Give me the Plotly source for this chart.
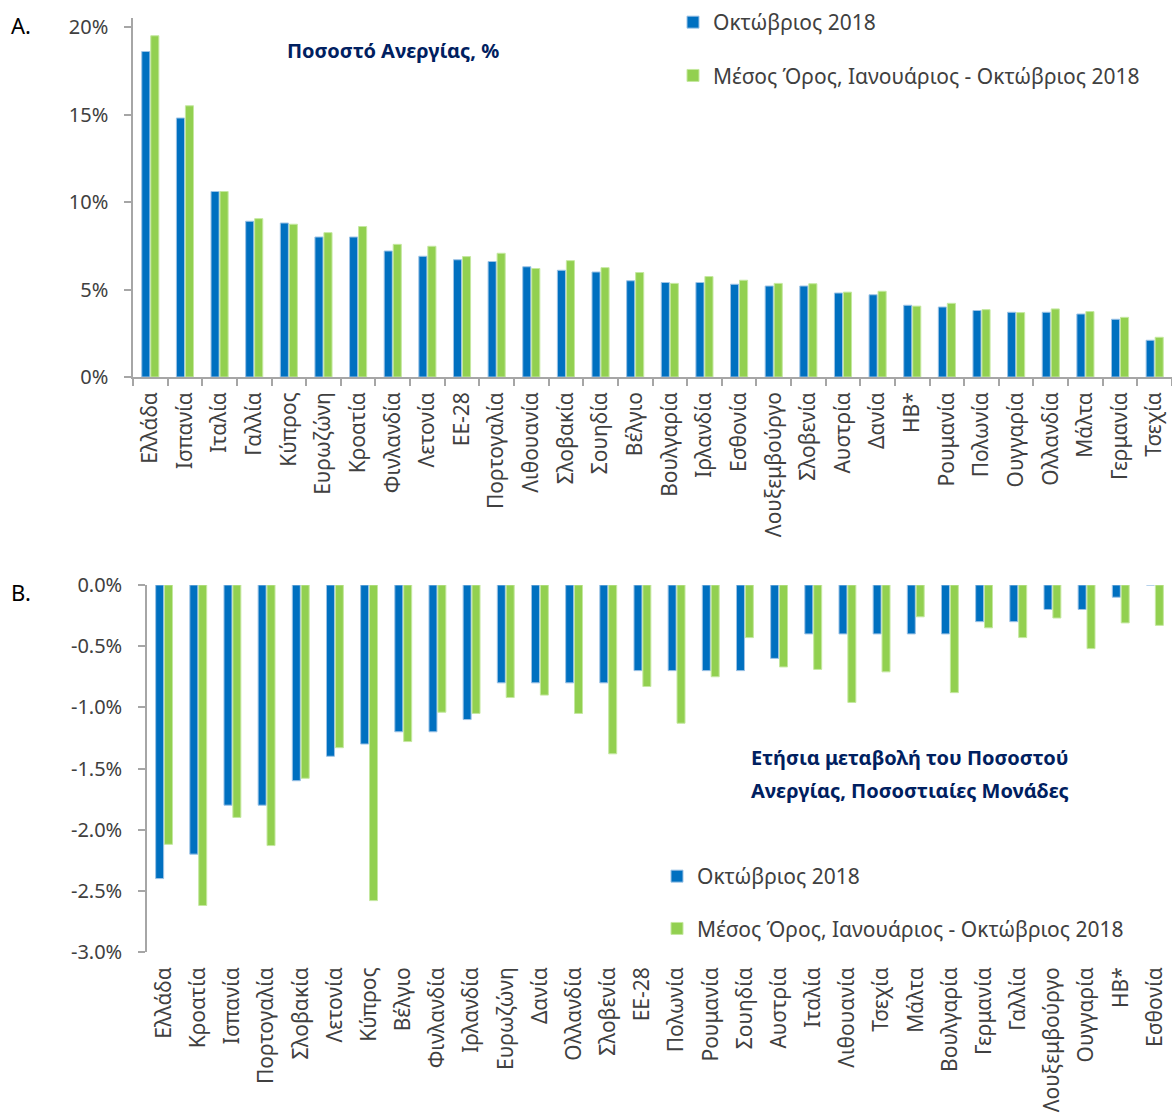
import plotly.graph_objects as go

# ---------------- data ----------------
cats_a = ["Ελλάδα", "Ισπανία", "Ιταλία", "Γαλλία", "Κύπρος", "Ευρωζώνη", "Κροατία",
          "Φινλανδία", "Λετονία", "ΕΕ-28", "Πορτογαλία", "Λιθουανία", "Σλοβακία",
          "Σουηδία", "Βέλγιο", "Βουλγαρία", "Ιρλανδία", "Εσθονία", "Λουξεμβούργο",
          "Σλοβενία", "Αυστρία", "Δανία", "ΗΒ*", "Ρουμανία", "Πολωνία", "Ουγγαρία",
          "Ολλανδία", "Μάλτα", "Γερμανία", "Τσεχία"]
oct_a = [18.6, 14.8, 10.6, 8.9, 8.8, 8.0, 8.0, 7.2, 6.9, 6.7, 6.6, 6.3, 6.1, 6.0, 5.5,
         5.4, 5.4, 5.3, 5.2, 5.2, 4.8, 4.7, 4.1, 4.0, 3.8, 3.7, 3.7, 3.6, 3.3, 2.1]
avg_a = [19.5, 15.5, 10.6, 9.05, 8.73, 8.25, 8.6, 7.58, 7.47, 6.88, 7.07, 6.2, 6.65,
         6.25, 5.97, 5.35, 5.74, 5.53, 5.35, 5.33, 4.85, 4.9, 4.05, 4.21, 3.85, 3.68,
         3.89, 3.74, 3.41, 2.27]
yticks_a = [0, 5, 10, 15, 20]
yticklabels_a = ["0%", "5%", "10%", "15%", "20%"]

cats_b = ["Ελλάδα", "Κροατία", "Ισπανία", "Πορτογαλία", "Σλοβακία", "Λετονία", "Κύπρος",
          "Βέλγιο", "Φινλανδία", "Ιρλανδία", "Ευρωζώνη", "Δανία", "Ολλανδία", "Σλοβενία",
          "ΕΕ-28", "Πολωνία", "Ρουμανία", "Σουηδία", "Αυστρία", "Ιταλία", "Λιθουανία",
          "Τσεχία", "Μάλτα", "Βουλγαρία", "Γερμανία", "Γαλλία", "Λουξεμβούργο",
          "Ουγγαρία", "ΗΒ*", "Εσθονία"]
oct_b = [-2.4, -2.2, -1.8, -1.8, -1.6, -1.4, -1.3, -1.2, -1.2, -1.1, -0.8, -0.8, -0.8,
         -0.8, -0.7, -0.7, -0.7, -0.7, -0.6, -0.4, -0.4, -0.4, -0.4, -0.4, -0.3, -0.3,
         -0.2, -0.2, -0.1, 0.0]
avg_b = [-2.12, -2.62, -1.9, -2.13, -1.58, -1.33, -2.58, -1.28, -1.04, -1.05, -0.92,
         -0.9, -1.05, -1.38, -0.83, -1.13, -0.75, -0.43, -0.67, -0.69, -0.96, -0.71,
         -0.26, -0.88, -0.35, -0.43, -0.27, -0.52, -0.31, -0.33]
yticks_b = [0, -0.5, -1.0, -1.5, -2.0, -2.5, -3.0]
yticklabels_b = ["0.0%", "-0.5%", "-1.0%", "-1.5%", "-2.0%", "-2.5%", "-3.0%"]

name_oct = "Οκτώβριος 2018"
name_avg = "Μέσος Όρος, Ιανουάριος - Οκτώβριος 2018"
title_a = "Ποσοστό Ανεργίας, %"
title_b_line1 = "Ετήσια μεταβολή του Ποσοστού"
title_b_line2 = "Ανεργίας, Ποσοστιαίες Μονάδες"

# ---------------- style ----------------
W, H = 1172, 1113
BLUE, GREEN = "#0070C0", "#92D050"
BLUE_EDGE, GREEN_EDGE = "#9DC3E6", "#C5E8A0"
AXIS = "#A6A6A6"
TXT = "#404040"
NAVY = "#002060"
FONT = "Noto Sans"


def px(x):
    return x / W


def py(y):
    return 1 - y / H


fig = go.Figure()

fig.add_trace(go.Bar(x=cats_a, y=oct_a, name=name_oct, marker_color=BLUE,
                     marker_line=dict(color=BLUE_EDGE, width=1),
                     xaxis="x", yaxis="y", legend="legend", legendgroup="a1"))
fig.add_trace(go.Bar(x=cats_a, y=avg_a, name=name_avg, marker_color=GREEN,
                     marker_line=dict(color=GREEN_EDGE, width=1),
                     xaxis="x", yaxis="y", legend="legend", legendgroup="a2"))
fig.add_trace(go.Bar(x=cats_b, y=oct_b, name=name_oct, marker_color=BLUE,
                     marker_line=dict(color=BLUE_EDGE, width=1),
                     xaxis="x2", yaxis="y2", legend="legend2", legendgroup="b1"))
fig.add_trace(go.Bar(x=cats_b, y=avg_b, name=name_avg, marker_color=GREEN,
                     marker_line=dict(color=GREEN_EDGE, width=1),
                     xaxis="x2", yaxis="y2", legend="legend2", legendgroup="b2"))

tickfont = dict(family=FONT, size=20, color=TXT)
cattickfont = dict(family=FONT, size=21, color=TXT)
axline = dict(showline=True, linecolor=AXIS, linewidth=1.5,
              ticklen=7, tickcolor=AXIS, tickwidth=1.5,
              showgrid=False, zeroline=False, automargin=False)

fig.update_layout(
    width=W, height=H,
    margin=dict(l=0, r=0, t=0, b=0, autoexpand=False),
    paper_bgcolor="white", plot_bgcolor="white",
    barmode="group", bargap=0.48, bargroupgap=0.1,
    font=dict(family=FONT, color=TXT),
    # top chart
    xaxis=dict(domain=[px(133), 1.0], anchor="y", type="category",
               categoryorder="array", categoryarray=cats_a,
               ticks="outside", tickson="boundaries", tickangle=-90,
               tickfont=cattickfont, ticklabelstandoff=5, **axline),
    yaxis=dict(domain=[py(377), py(18.25)], anchor="x", range=[0, 20.5],
               tickmode="array", tickvals=yticks_a, ticktext=yticklabels_a,
               ticks="outside", tickfont=tickfont, ticklabelstandoff=12, **axline),
    # bottom chart
    xaxis2=dict(domain=[px(147), 1.0], anchor="y2", type="category",
                categoryorder="array", categoryarray=cats_b,
                showline=False, ticks="", tickangle=-90, tickfont=cattickfont,
                ticklabelstandoff=10, showgrid=False, zeroline=False,
                automargin=False),
    xaxis3=dict(domain=[px(147), 1.0], anchor="y2", overlaying="x2", side="top",
                range=[-0.5, len(cats_b) - 0.5],
                tickmode="array", tickvals=[i - 0.5 for i in range(len(cats_b) + 1)],
                showticklabels=False, ticks="inside", **axline),
    yaxis2=dict(domain=[py(952), py(585)], anchor="x2", range=[-3, 0],
                tickmode="array", tickvals=yticks_b, ticktext=yticklabels_b,
                ticks="outside", tickfont=tickfont, ticklabelstandoff=12, **axline),
    legend=dict(x=px(673), y=py(2), xanchor="left", yanchor="top",
                font=dict(family=FONT, size=21, color=TXT),
                bgcolor="rgba(0,0,0,0)", tracegroupgap=23,
                itemclick=False, traceorder="grouped"),
    legend2=dict(x=px(657), y=py(856), xanchor="left", yanchor="top",
                 font=dict(family=FONT, size=21, color=TXT),
                 bgcolor="rgba(0,0,0,0)", tracegroupgap=22,
                 itemclick=False, traceorder="grouped"),
    showlegend=True,
)

fig.add_annotation(x=px(393), y=py(50), xref="paper", yref="paper",
                   text=f"<b>{title_a}</b>", showarrow=False,
                   font=dict(family=FONT, size=20, color=NAVY),
                   xanchor="center", yanchor="middle")
fig.add_annotation(x=px(910), y=py(757), xref="paper", yref="paper",
                   text=f"<b>{title_b_line1}</b>", showarrow=False,
                   font=dict(family=FONT, size=20, color=NAVY),
                   xanchor="center", yanchor="middle")
fig.add_annotation(x=px(910), y=py(790), xref="paper", yref="paper",
                   text=f"<b>{title_b_line2}</b>", showarrow=False,
                   font=dict(family=FONT, size=20, color=NAVY),
                   xanchor="center", yanchor="middle")
fig.add_annotation(x=px(9), y=py(25), xref="paper", yref="paper",
                   text="A.", showarrow=False,
                   font=dict(family=FONT, size=22, color="#000000"),
                   xanchor="left", yanchor="middle")
fig.add_annotation(x=px(9), y=py(592), xref="paper", yref="paper",
                   text="B.", showarrow=False,
                   font=dict(family=FONT, size=22, color="#000000"),
                   xanchor="left", yanchor="middle")

fig.write_html("out.html",
               config={"displayModeBar": False},
               post_script="document.body.style.margin='0';"
                           "document.body.style.overflow='hidden';")
